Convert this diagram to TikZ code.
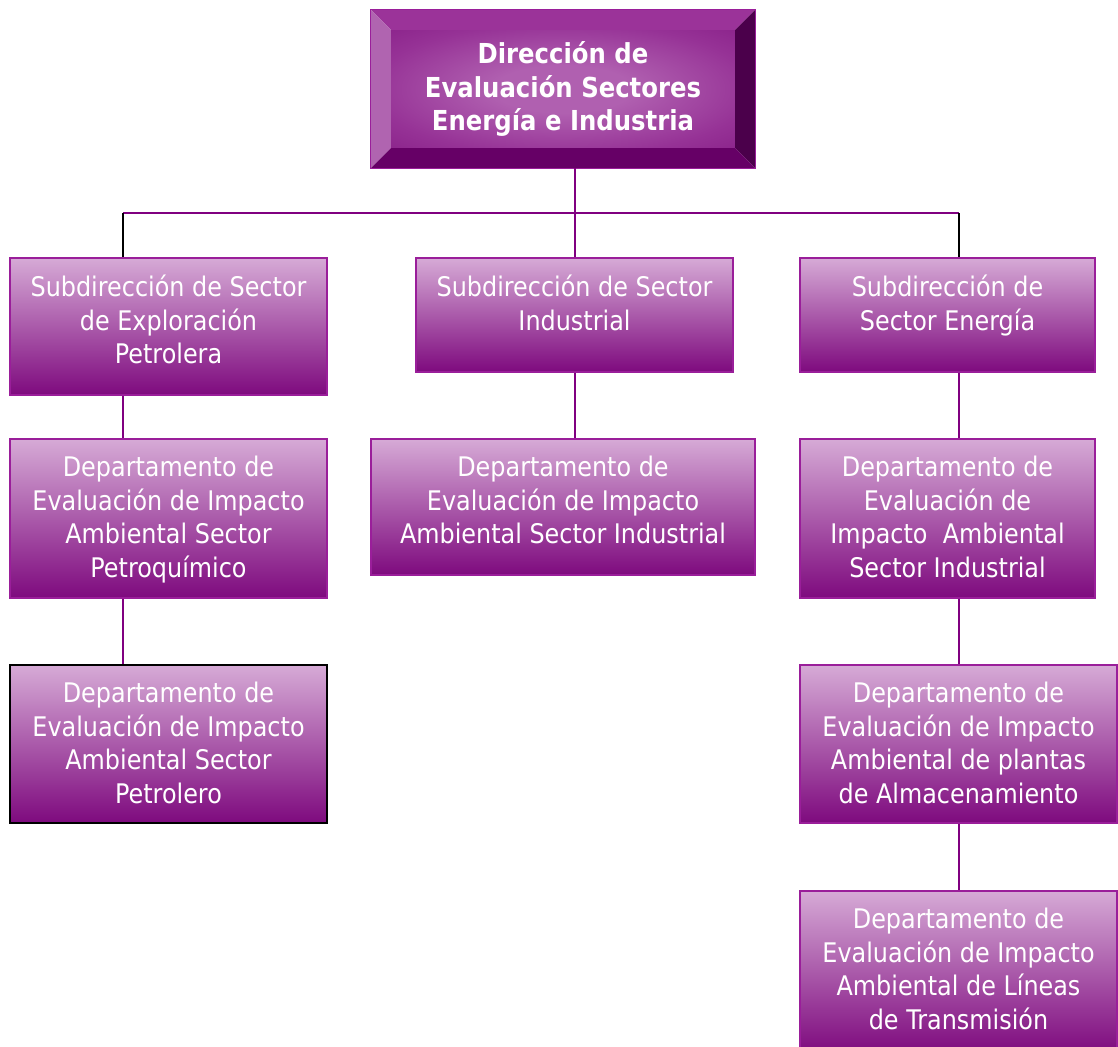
\documentclass[tikz,border=0pt]{standalone}
\usepackage{fontspec}
\newfontfamily\boxfont[FakeStretch=0.885]{DejaVu Sans}
\usetikzlibrary{calc}
\definecolor{plum}{HTML}{800080}
\definecolor{boxtop}{HTML}{D6AAD6}
\definecolor{boxmid}{HTML}{B27AB2}
\definecolor{boxbot}{HTML}{7E0A7E}
\definecolor{boxedge}{HTML}{9A1E9A}
\definecolor{bevtop}{HTML}{9B3399}
\definecolor{bevleft}{HTML}{B064B0}
\definecolor{bevright}{HTML}{4B004B}
\definecolor{bevbot}{HTML}{660066}
\definecolor{facein}{HTML}{B060B0}
\definecolor{facemid}{HTML}{963296}
\definecolor{faceout}{HTML}{801480}
% soft glow for the face of the head box
\pgfdeclareradialshading{faceglow}{\pgfpoint{0bp}{0bp}}{%
  color(0bp)=(facein); color(10bp)=(facein); color(28bp)=(facemid);
  color(46bp)=(faceout); color(72bp)=(faceout)}
\begin{document}
\begin{tikzpicture}[x=1pt,y=-1pt,
  orgbox/.style={draw=boxedge, line width=1.6pt, top color=boxtop,
    middle color=boxmid, bottom color=boxbot, inner sep=0pt},
  boxtext/.style={text=white, font=\boxfont\fontsize{27}{33.5}\selectfont,
    align=center, anchor=north, inner sep=0pt},
  titletext/.style={text=white, font=\boxfont\bfseries\fontsize{27.5}{33.5}\selectfont,
    align=center, inner sep=0pt},
  link/.style={draw=plum, line width=2pt},
  blink/.style={draw=black, line width=1.6pt}]
\useasboundingbox (0,0) rectangle (1118,1046);

% bevelled head box
\node[minimum width=384pt, minimum height=158pt, inner sep=0pt] (top) at (563,89) {};
\coordinate (tnw) at (top.north west);
\coordinate (tne) at (top.north east);
\coordinate (tsw) at (top.south west);
\coordinate (tse) at (top.south east);
\coordinate (inw) at ($(tnw)+(20,20)$);
\coordinate (ine) at ($(tne)+(-20,20)$);
\coordinate (isw) at ($(tsw)+(20,-20)$);
\coordinate (ise) at ($(tse)+(-20,-20)$);
\shade[shading=faceglow] (inw) rectangle (ise);
\fill[bevtop] (tnw) -- (tne) -- (ine) -- (inw) -- cycle;
\fill[bevleft] (tnw) -- (inw) -- (isw) -- (tsw) -- cycle;
\fill[bevright] (tne) -- (tse) -- (ise) -- (ine) -- cycle;
\fill[bevbot] (tsw) -- (isw) -- (ise) -- (tse) -- cycle;
\draw[boxedge, line width=1.2pt] (tnw) rectangle (tse);
\node[titletext] (toptext) at (top.center) {Dirección de\\Evaluación Sectores\\Energía e Industria};

% column guides and bus level
\coordinate (lcol) at (123,0);
\coordinate (rcol) at (959,0);
\coordinate (bus) at (0,213);

% level 1
\node[orgbox, minimum width=317pt, minimum height=137pt] (s1) at (168.5,326.5) {};
\node[orgbox, minimum width=317pt, minimum height=114pt] (s2) at (574.5,315) {};
\node[orgbox, minimum width=295pt, minimum height=114pt] (s3) at (947.5,315) {};
% level 2
\node[orgbox, minimum width=317pt, minimum height=159pt] (d1) at (168.5,518.5) {};
\node[orgbox, minimum width=384pt, minimum height=136pt] (d2) at (563,507) {};
\node[orgbox, minimum width=295pt, minimum height=159pt] (d3) at (947.5,518.5) {};
% level 3
\node[orgbox, draw=black, minimum width=317pt, minimum height=158pt] (d4) at (168.5,744) {};
\node[orgbox, minimum width=317pt, minimum height=158pt] (d5) at (958.5,744) {};
% level 4
\node[orgbox, minimum width=317pt, minimum height=162pt] (d6) at (958.5,972) {};

% labels
\node[boxtext] (s1t) at ($(s1.north)+(0,18)$) {Subdirección de Sector\\de Exploración\\Petrolera};
\node[boxtext] (s2t) at ($(s2.north)+(0,18)$) {Subdirección de Sector\\Industrial};
\node[boxtext] (s3t) at ($(s3.north)+(0,18)$) {Subdirección de\\Sector Energía};
\node[boxtext] (d1t) at ($(d1.north)+(0,18)$) {Departamento de\\Evaluación de Impacto\\Ambiental Sector\\Petroquímico};
\node[boxtext] (d2t) at ($(d2.north)+(0,18)$) {Departamento de\\Evaluación de Impacto\\Ambiental Sector Industrial};
\node[boxtext] (d3t) at ($(d3.north)+(0,18)$) {Departamento de\\Evaluación de\\Impacto\ \ Ambiental\\Sector Industrial};
\node[boxtext] (d4t) at ($(d4.north)+(0,18)$) {Departamento de\\Evaluación de Impacto\\Ambiental Sector\\Petrolero};
\node[boxtext] (d5t) at ($(d5.north)+(0,18)$) {Departamento de\\Evaluación de Impacto\\Ambiental de plantas\\de Almacenamiento};
\node[boxtext] (d6t) at ($(d6.north)+(0,18)$) {Departamento de\\Evaluación de Impacto\\Ambiental de Líneas\\de Transmisión};

% connectors
\draw[link] (top.south -| s2.north) -- (s2.north);
\draw[link, line width=2.6pt] (lcol |- bus) -- (rcol |- bus);
\draw[blink] (lcol |- bus) -- (lcol |- s1.north);
\draw[blink] (rcol |- bus) -- (rcol |- s3.north);
\draw[link] (lcol |- s1.south) -- (lcol |- d1.north);
\draw[link] (lcol |- d1.south) -- (lcol |- d4.north);
\draw[link] (s2.south) -- (s2.south |- d2.north);
\draw[link] (rcol |- s3.south) -- (rcol |- d3.north);
\draw[link] (rcol |- d3.south) -- (rcol |- d5.north);
\draw[link] (rcol |- d5.south) -- (rcol |- d6.north);
\end{tikzpicture}
\end{document}
